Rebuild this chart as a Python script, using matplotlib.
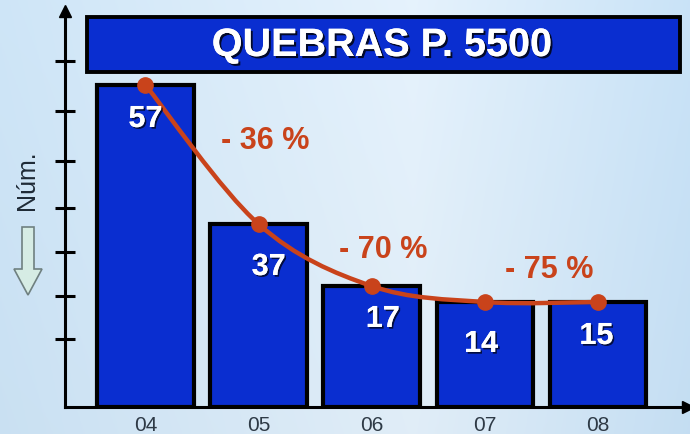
import numpy as np
import matplotlib
matplotlib.use("Agg")
import matplotlib.pyplot as plt
from matplotlib.patches import Rectangle, Polygon, PathPatch
from matplotlib.path import Path
import matplotlib.patheffects as pe

# ---- data ----
years = ["04", "05", "06", "07", "08"]
quebras = [57, 37, 17, 14, 15]
# bar heights as drawn in the picture (axis units, baseline = 0)
bar_heights = [322, 183, 121, 105, 105]
# label positions inside the bars (axis units)
label_x = [0.0, 0.09, 0.10, -0.03, -0.01]
label_y = [288, 140, 88, 63, 71]
reductions = ["- 36 %", "- 70 %", "- 75 %"]
red_x = [1.06, 2.10, 3.57]
red_y = [267, 158, 138]
y_ticks = [68, 111, 155, 199, 246, 296, 346]

W, H = 690, 435
fig = plt.figure(figsize=(W / 100, H / 100), dpi=100)

def fx(px):
    return px / W

def fy(py):
    return 1 - py / H

# ---- background gradient ----
bg = fig.add_axes([0, 0, 1, 1], zorder=-10)
xx, yy = np.meshgrid(np.linspace(0, 1, 300), np.linspace(0, 1, 200))
c_left = np.array([0.80, 0.89, 0.96])
c_mid = np.array([0.89, 0.94, 0.98])
c_right = np.array([0.78, 0.88, 0.96])
t = xx
img = np.zeros((200, 300, 3))
for k in range(3):
    img[..., k] = np.where(t < 0.6,
                           c_left[k] + (c_mid[k] - c_left[k]) * (t / 0.6),
                           c_mid[k] + (c_right[k] - c_mid[k]) * ((t - 0.6) / 0.4))
img = img + (yy[..., None] - 0.5) * 0.02
bg.imshow(np.clip(img, 0, 1), aspect="auto", extent=[0, 1, 0, 1], origin="lower")
bg.set_axis_off()

# ---- main axes ----
ax = fig.add_axes([fx(65), 1 - 408 / H, fx(688 - 65), (408 - 12) / H])
ax.patch.set_alpha(0)
x = np.arange(len(years))
ax.set_xlim(-0.712, 4.80)
ax.set_ylim(0, 396)

ax.bar(x, bar_heights, width=0.85, color="#0a2ed0", edgecolor="black",
       linewidth=3.0, zorder=3)

# smooth connecting line (Catmull-Rom as cubic Bezier path through the bar tops)
line_color = "#c9431b"
pts = np.column_stack([x, bar_heights]).astype(float)
verts = [tuple(pts[0])]
codes = [Path.MOVETO]
for i in range(len(pts) - 1):
    p0 = pts[i - 1] if i > 0 else pts[i]
    p1, p2 = pts[i], pts[i + 1]
    p3 = pts[i + 2] if i + 2 < len(pts) else pts[i + 1]
    c1 = p1 + (p2 - p0) / 6.0
    c2 = p2 - (p3 - p1) / 6.0
    verts += [tuple(c1), tuple(c2), tuple(p2)]
    codes += [Path.CURVE4, Path.CURVE4, Path.CURVE4]
ax.add_patch(PathPatch(Path(verts, codes), facecolor="none", edgecolor=line_color,
                       linewidth=3.2, zorder=5, capstyle="round"))
ax.plot(x, bar_heights, linestyle="none", marker="o", markersize=11,
        color=line_color, zorder=5)

shadow = [pe.withSimplePatchShadow(offset=(1.2, -1.2), shadow_rgbFace="black", alpha=0.7), pe.Normal()]
for i, q in enumerate(quebras):
    ax.text(x[i] + label_x[i], label_y[i], str(q), color="white",
            fontsize=22, fontweight="bold", family="Liberation Sans",
            ha="center", va="center", zorder=6, path_effects=shadow)

for txt, rx, ry in zip(reductions, red_x, red_y):
    ax.text(rx, ry, txt, color=line_color, fontsize=22, fontweight="bold",
            family="Liberation Sans", ha="center", va="center", zorder=6)

for s in ["top", "right"]:
    ax.spines[s].set_visible(False)
for s in ["left", "bottom"]:
    ax.spines[s].set_linewidth(2.2)
    ax.spines[s].set_color("black")
    ax.spines[s].set_zorder(4)

ax.set_xticks(x)
ax.set_xticklabels(years, fontsize=15, color="#2e3a46", family="Liberation Sans")
ax.tick_params(axis="x", length=0, pad=6)
ax.set_yticks(y_ticks)
ax.set_yticklabels([])
ax.tick_params(axis="y", direction="inout", length=14, width=2.2, color="black")

# axis arrow heads
ax.plot([-0.712], [396], marker="^", markersize=9, color="black", clip_on=False, zorder=6)
ax.plot([4.80], [0], marker=">", markersize=9, color="black", clip_on=False, zorder=6)

# ---- title box ----
fig.patches.append(Rectangle((fx(87), fy(73)), fx(680 - 87), (73 - 18) / H,
                             transform=fig.transFigure, facecolor="#0a2ed0",
                             edgecolor="black", linewidth=2.8, zorder=2))
fig.text(fx(382), fy(46), "QUEBRAS P. 5500", color="white", fontsize=28.5,
         fontweight="bold", family="Liberation Sans", ha="center", va="center",
         zorder=3,
         path_effects=[pe.withSimplePatchShadow(offset=(1.5, -1.5), shadow_rgbFace="black", alpha=0.8), pe.Normal()])

# ---- y label and arrow ----
fig.text(fx(27), fy(180), "Núm.", rotation=90, fontsize=18, color="#1e2a36",
         family="Liberation Sans", ha="center", va="center")
arrow_pts = [(22, 228), (34, 228), (34, 270), (42, 270), (28, 296), (14, 270), (22, 270)]
fig.patches.append(Polygon([(fx(px), fy(py)) for px, py in arrow_pts], closed=True,
                           transform=fig.transFigure, facecolor="#d6ece4",
                           edgecolor="#6f8080", linewidth=1.2))

fig.savefig("out.png", dpi=100)
